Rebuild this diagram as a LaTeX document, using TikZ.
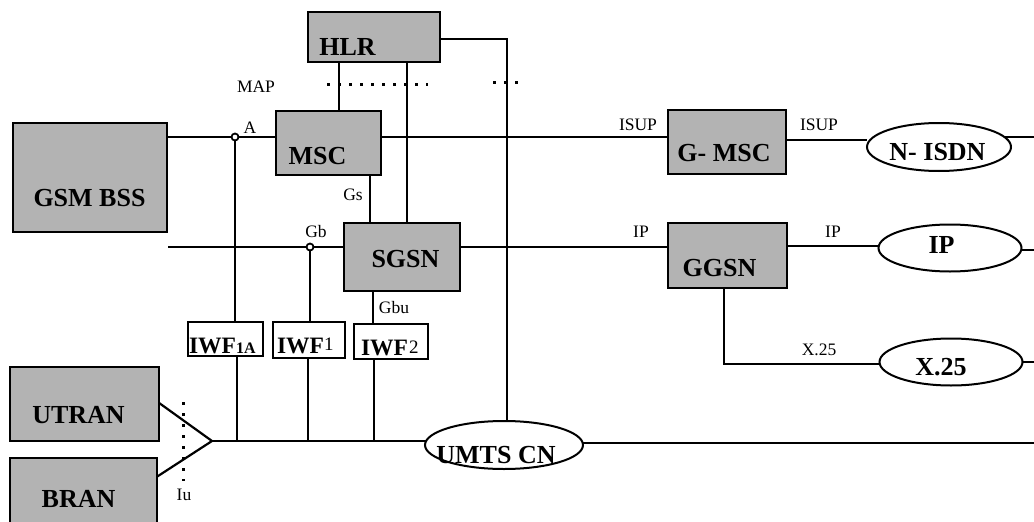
\documentclass[tikz,border=0pt]{standalone}
\usepackage{fontspec}
\setmainfont{Liberation Serif}
\usetikzlibrary{shapes.geometric,backgrounds}
\definecolor{boxgray}{RGB}{179,179,179}
\begin{document}
\begin{tikzpicture}[x=1pt,y=-1pt, line width=2pt,
  box/.style={draw, fill=boxgray, anchor=north west, inner sep=0, line width=2pt},
  wbox/.style={draw, fill=white, anchor=north west, inner sep=0, line width=2pt},
  oval/.style={draw, fill=white, ellipse, inner sep=0, line width=2pt},
  big/.style={font=\fontsize{26}{26}\selectfont\bfseries, inner sep=0, anchor=base},
  iwf/.style={font=\fontsize{23.5}{24}\selectfont\bfseries, inner sep=0, anchor=base west},
  small/.style={font=\fontsize{17.5}{18}\selectfont, inner sep=0, anchor=base},
  conn/.style={line width=2.2pt},
  dots/.style={line width=3pt, dash pattern=on 3pt off 8pt},
  junc/.style={circle, draw, fill=white, inner sep=0, minimum size=7pt, line width=1.8pt}]
\useasboundingbox (0,0) rectangle (1034,522);

% boxes
\node[box, minimum width=154, minimum height=109] (gsm) at (12,122) {};
\node[box, minimum width=132, minimum height=50] (hlr) at (307,11) {};
\node[box, minimum width=105, minimum height=64] (msc) at (275,110) {};
\node[box, minimum width=116, minimum height=68] (sgsn) at (343,222) {};
\node[box, minimum width=118, minimum height=64] (gmsc) at (667,109) {};
\node[box, minimum width=119, minimum height=65] (ggsn) at (667,222) {};
\node[box, minimum width=149, minimum height=74] (utran) at (9,366) {};
\node[box, minimum width=147, minimum height=80] (bran) at (9,457) {};
\node[wbox, minimum width=75, minimum height=34] (iwfa) at (187,321) {};
\node[wbox, minimum width=72, minimum height=36] (iwfb) at (272,321) {};
\node[wbox, minimum width=74, minimum height=35] (iwfc) at (353,323) {};

% ellipses
\node[oval, minimum width=144, minimum height=48] (isdn) at (939,147) {};
\node[oval, minimum width=143, minimum height=47] (ipn) at (950,248) {};
\node[oval, minimum width=143, minimum height=47] (x25) at (951,362) {};
\node[oval, minimum width=158, minimum height=48] (umts) at (504,445) {};

% box labels
\node[big] (tgsm) at (89.5,206) {GSM BSS};
\node[big] (thlr) at (347.5,55) {HLR};
\node[big] (tmsc) at (317.5,164) {MSC};
\node[big] (tsgsn) at (405.5,267) {SGSN};
\node[big] (tgmsc) at (724,161) {G- MSC};
\node[big] (tisdn) at (937.5,160) {N- ISDN};
\node[big] (tggsn) at (719.5,276) {GGSN};
\node[big] (tip) at (941.5,253) {IP};
\node[big] (tx25) at (941,375) {X.25};
\node[big] (tumts) at (496,463) {UMTS CN};
\node[big] (tutran) at (78.5,423) {UTRAN};
\node[big] (tbran) at (78.5,507) {BRAN};
\node[iwf] (tiwfa) at (188,353) {IWF{\fontsize{16}{16}\selectfont 1A}};
\node[iwf] (tiwfb) at (276,353) {IWF\raisebox{3pt}{\fontsize{19}{19}\selectfont\mdseries 1}};
\node[iwf] (tiwfc) at (360,355) {IWF\kern1pt\raisebox{2pt}{\fontsize{19}{19}\selectfont\mdseries 2}};

% small labels
\node[small] (lmap) at (256,92) {MAP};
\node[small] (la) at (250,133) {A};
\node[small] (lgs) at (353,200) {Gs};
\node[small] (lgb) at (316,237) {Gb};
\node[small] (lgbu) at (394,313) {Gbu};
\node[small] (lisup1) at (638,130) {ISUP};
\node[small] (lisup2) at (819,130) {ISUP};
\node[small] (lip1) at (641,237) {IP};
\node[small] (lip2) at (833,237) {IP};
\node[small] (lx25) at (819,355) {X.25};
\node[small] (liu) at (184,500) {Iu};

% helper coordinates
\coordinate (A) at (235,137);
\coordinate (Gb) at (310,247);
\coordinate (xhm) at (339,0);
\coordinate (xhs) at (407,0);
\coordinate (xgs) at (370,0);
\coordinate (xgbu) at (373,0);
\coordinate (hlrT) at (507,39);
\coordinate (isdnR) at (1034,137);
\coordinate (ipR) at (1034,250);
\coordinate (x25R) at (1034,362);
\coordinate (umtsR) at (1034,443);
\coordinate (ggR) at (878,246);
\coordinate (xk) at (724,364);
\coordinate (gmR) at (867,140);
\coordinate (bus) at (212,441);
\coordinate (u1) at (155,400);
\coordinate (b1) at (155,478);
\coordinate (v1) at (237,0);
\coordinate (v2) at (308,0);
\coordinate (v3) at (374,0);

\begin{scope}[on background layer]
  \draw[conn] (gsm.east |- A) -- (msc.west |- A);
  \draw[conn] (A) -- (A |- iwfa.north);
  \draw[conn] (msc.east |- A) -- (gmsc.west |- A);
  \draw[conn] (gmsc.east |- gmR) -- (gmR);
  \draw[conn] (isdn.center |- isdnR) -- (isdnR);
  \draw[conn] (hlr.south -| xhm) -- (msc.north -| xhm);
  \draw[conn] (hlr.south -| xhs) -- (sgsn.north -| xhs);
  \draw[conn] (msc.south -| xgs) -- (sgsn.north -| xgs);
  \draw[conn] (hlr.center |- hlrT) -- (hlrT) -- (umts.center -| hlrT);
  \draw[conn] (gsm.east |- Gb) -- (sgsn.west |- Gb);
  \draw[conn] (Gb) -- (Gb |- iwfb.north);
  \draw[conn] (sgsn.east |- Gb) -- (ggsn.west |- Gb);
  \draw[conn] (ggsn.east |- ggR) -- (ggR);
  \draw[conn] (ipn.center |- ipR) -- (ipR);
  \draw[conn] (ggsn.south -| xk) -- (xk) -- (x25.center |- xk);
  \draw[conn] (x25.center |- x25R) -- (x25R);
  \draw[conn] (sgsn.south -| xgbu) -- (iwfc.north -| xgbu);
  \draw[conn] (iwfa.south -| v1) -- (bus -| v1);
  \draw[conn] (iwfb.south -| v2) -- (bus -| v2);
  \draw[conn] (iwfc.south -| v3) -- (bus -| v3);
  \draw[conn] (u1) -- (bus) -- (b1);
  \draw[conn] (bus) -- (umts.center |- bus);
  \draw[conn] (umts.center |- umtsR) -- (umtsR);
\end{scope}

% junctions
\node[junc] (jA) at (A) {};
\node[junc] (jGb) at (Gb) {};

% dotted reference lines
\draw[dots] (327,84) -- (428,84);
\draw[dots] (493,82) -- (518,82);
\draw[dots] (183,402) -- (183,481);
\end{tikzpicture}
\end{document}
